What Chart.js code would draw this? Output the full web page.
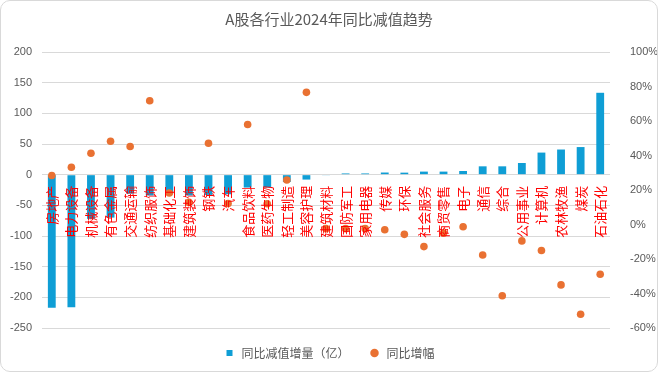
<!DOCTYPE html>
<html>
<head>
<meta charset="utf-8">
<script src="https://cdn.jsdelivr.net/npm/chart.js@4"></script>
<style>
  body { margin: 0; background: #fff; }
  #wrap { position: relative; width: 658px; height: 372px; }
  #frame { position: absolute; left: 0; top: 0; width: 656px; height: 370px; border: 1px solid #d9d9d9; border-radius: 10px; pointer-events: none; }
</style>
</head>
<body>
<div id="wrap">
  <canvas id="chart" width="658" height="372"></canvas>
  <div id="frame"></div>
</div>
<script>
const industries = [
    '房地产', '电力设备', '机械设备', '有色金属', '交通运输', '纺织服饰', '基础化工', '建筑装饰',
    '钢铁', '汽车', '食品饮料', '医药生物', '轻工制造', '美容护理', '建筑材料', '国防军工',
    '家用电器', '传媒', '环保', '社会服务', '商贸零售', '电子', '通信', '综合',
    '公用事业', '计算机', '农林牧渔', '煤炭', '石油石化'
];

// 同比减值增量（亿）
const impairmentChange = [
    -217, -216, -72, -70, -31, -34, -31, -34,
    -33, -32, -21, -21, -12, -8, -1, 2,
    2, 3.5, 3.3, 5, 5, 6, 13.6, 13.6,
    19, 36, 41, 45, 133.5
];

// 同比增幅 (%)
const growthPct = [
    28.4, 33.2, 41.3, 48.3, 45.2, 71.7, 18.3, 12.8,
    47.1, 12.2, 58.0, 12, 25.8, 76.6, -2.4, -2.4,
    -2.4, -3, -5.7, -12.8, -5, -1.3, -17.7, -41.3,
    -9.5, -15.1, -35, -52, -28.8
];

const leftTicks = { min: -250, max: 200, step: 50 };
const rightTicks = { min: -60, max: 100, step: 20 };

const textGray = '#595959';
const cjk = "'Noto Sans CJK SC', 'Liberation Sans', sans-serif";
const num = "'Liberation Sans', Arial, sans-serif";

const ctx = document.getElementById('chart');

const chart = new Chart(ctx, {
    type: 'bar',
    data: {
        labels: industries,
        datasets: [
            {
                type: 'bar',
                label: '同比减值增量（亿）',
                data: impairmentChange,
                backgroundColor: '#0F9ED5',
                borderWidth: 0,
                barPercentage: 0.4,
                categoryPercentage: 1,
                yAxisID: 'y',
                pointStyle: 'rect',
                order: 1
            },
            {
                type: 'line',
                label: '同比增幅',
                data: growthPct,
                showLine: false,
                backgroundColor: '#E97132',
                borderColor: '#E97132',
                pointBackgroundColor: '#E97132',
                pointBorderWidth: 0,
                pointRadius: 3.8,
                pointStyle: 'circle',
                yAxisID: 'y1',
                order: 0
            }
        ]
    },
    options: {
        responsive: false,
        animation: false,
        devicePixelRatio: 1,
        layout: { padding: { left: 0, right: 0, top: 0, bottom: 3 } },
        plugins: {
            title: {
                display: true,
                text: 'A股各行业2024年同比减值趋势',
                color: textGray,
                font: { family: cjk, size: 15, weight: 'normal' },
                padding: { top: 10, bottom: 24 }
            },
            legend: {
                position: 'bottom',
                labels: {
                    usePointStyle: true,
                    boxHeight: 6,
                    padding: 19,
                    color: textGray,
                    font: { family: cjk, size: 12 },
                    sort: function(a, b) { return a.datasetIndex - b.datasetIndex; }
                }
            },
            tooltip: { enabled: false }
        },
        scales: {
            x: {
                position: { y: 0 },
                offset: true,
                grid: { display: false },
                border: { display: false },
                ticks: {
                    autoSkip: false,
                    minRotation: 90,
                    maxRotation: 90,
                    padding: 3,
                    color: '#FF0000',
                    z: 1,
                    font: { family: cjk, size: 13 }
                }
            },
            y: {
                position: 'left',
                min: leftTicks.min,
                max: leftTicks.max,
                afterFit: function(scale) { scale.width = 42; },
                grid: { color: '#d9d9d9', drawTicks: false },
                border: { display: false },
                ticks: {
                    stepSize: leftTicks.step,
                    padding: 10,
                    color: textGray,
                    font: { family: num, size: 11 }
                }
            },
            y1: {
                position: 'right',
                min: rightTicks.min,
                max: rightTicks.max,
                afterFit: function(scale) { scale.width = 48; },
                grid: { display: false },
                border: { display: false },
                ticks: {
                    stepSize: rightTicks.step,
                    padding: 12,
                    color: textGray,
                    font: { family: num, size: 11 },
                    callback: function(value) {
                        return value + '%';
                    }
                }
            }
        }
    }
});
</script>
</body>
</html>
